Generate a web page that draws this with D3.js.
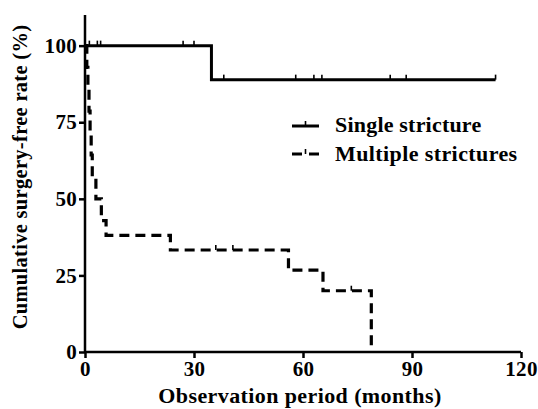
<!DOCTYPE html>
<html>
<head>
<meta charset="utf-8">
<script src="https://cdn.jsdelivr.net/npm/d3@7/dist/d3.min.js"></script>
<style>
  body { margin: 0; background: #fff; }
  text { font-family: "Liberation Serif", "Times New Roman", serif; font-weight: bold; fill: #000; }
</style>
</head>
<body>
<svg id="chart" width="538" height="409"></svg>
<script>
// Kaplan-Meier steps: [month, % surgery-free]
const singleSteps = [[0, 100], [34.8, 88.9], [113, 88.9]];
const singleCensored = [[1.2, 100], [3.4, 100], [4.3, 100], [27, 100], [30, 100],
  [38.2, 88.9], [58, 88.9], [63, 88.9], [65.2, 88.9], [84, 88.9], [88.4, 88.9], [113, 88.9]];

const multipleSteps = [
  [0, 100], [0.5, 92.9], [0.8, 85.7], [1.1, 78.6], [1.4, 71.4], [1.7, 64.3],
  [2.0, 57.1], [3.0, 50.0], [4.5, 42.9], [5.8, 38.1], [23.5, 33.3],
  [56, 26.7], [65.5, 20.0], [78.8, 0]
];
const multipleCensored = [[36, 33.3], [40.7, 33.3], [73.3, 20.0]];

const xTicks = [0, 30, 60, 90, 120];
const yTicks = [0, 25, 50, 75, 100];

const svg = d3.select('#chart');
const x = d3.scaleLinear().domain([0, 120]).range([85, 521]);
const y = d3.scaleLinear().domain([0, 110]).range([352, 15]);

// axes
const xAxis = svg.append('g').attr('transform', 'translate(0,352)')
  .call(d3.axisBottom(x).tickValues(xTicks).tickSize(6).tickPadding(3).tickSizeOuter(0));
const yAxis = svg.append('g').attr('transform', 'translate(85,0)')
  .call(d3.axisLeft(y).tickValues(yTicks).tickSize(6).tickPadding(2).tickSizeOuter(0));
[xAxis, yAxis].forEach(a => {
  a.attr('font-size', null).attr('font-family', null);
  a.select('.domain').attr('stroke', '#000').attr('stroke-width', 2.5);
  a.selectAll('.tick line').attr('stroke', '#000').attr('stroke-width', 2.5);
  a.selectAll('.tick text').style('font-size', '21px').style('letter-spacing', '0.3px');
});
xAxis.select('.domain').attr('d', 'M' + x(0) + ',0H' + x(120));
yAxis.select('.domain').attr('d', 'M0,' + y(0) + 'V' + y(110));

// curves
const line = d3.line().x(d => x(d[0])).y(d => y(d[1])).curve(d3.curveStepAfter);

svg.append('path').datum(singleSteps)
  .attr('d', line).attr('fill', 'none').attr('stroke', '#000').attr('stroke-width', 3);
svg.append('path').datum(multipleSteps)
  .attr('d', line).attr('fill', 'none').attr('stroke', '#000').attr('stroke-width', 3.2)
  .attr('stroke-dasharray', '10,6');

// censor marks
svg.selectAll('.cens').data(singleCensored.concat(multipleCensored)).enter().append('line')
  .attr('x1', d => x(d[0])).attr('x2', d => x(d[0]))
  .attr('y1', d => y(d[1])).attr('y2', d => y(d[1]) - 5)
  .attr('stroke', '#000').attr('stroke-width', 1.6);

// legend
const lg = svg.append('g');
lg.append('line').attr('x1', 292).attr('x2', 319).attr('y1', 126).attr('y2', 126)
  .attr('stroke', '#000').attr('stroke-width', 3);
lg.append('line').attr('x1', 305.5).attr('x2', 305.5).attr('y1', 126).attr('y2', 121)
  .attr('stroke', '#000').attr('stroke-width', 1.6);
lg.append('line').attr('x1', 292).attr('x2', 319).attr('y1', 154).attr('y2', 154)
  .attr('stroke', '#000').attr('stroke-width', 3).attr('stroke-dasharray', '10,7');
lg.append('line').attr('x1', 305.5).attr('x2', 305.5).attr('y1', 154).attr('y2', 149)
  .attr('stroke', '#000').attr('stroke-width', 1.6);
lg.append('text').attr('x', 335).attr('y', 132).style('font-size', '22px')
  .style('letter-spacing', '0.2px').text('Single stricture');
lg.append('text').attr('x', 335).attr('y', 160.5).style('font-size', '22px')
  .style('letter-spacing', '0.4px').text('Multiple strictures');

// axis titles
svg.append('text').attr('x', 300).attr('y', 403).attr('text-anchor', 'middle')
  .style('font-size', '22px').style('letter-spacing', '0.4px').text('Observation period (months)');
svg.append('text').attr('transform', 'translate(27,177) rotate(-90)').attr('text-anchor', 'middle')
  .style('font-size', '20.5px').style('letter-spacing', '0.3px').text('Cumulative surgery-free rate (%)');
</script>
</body>
</html>
